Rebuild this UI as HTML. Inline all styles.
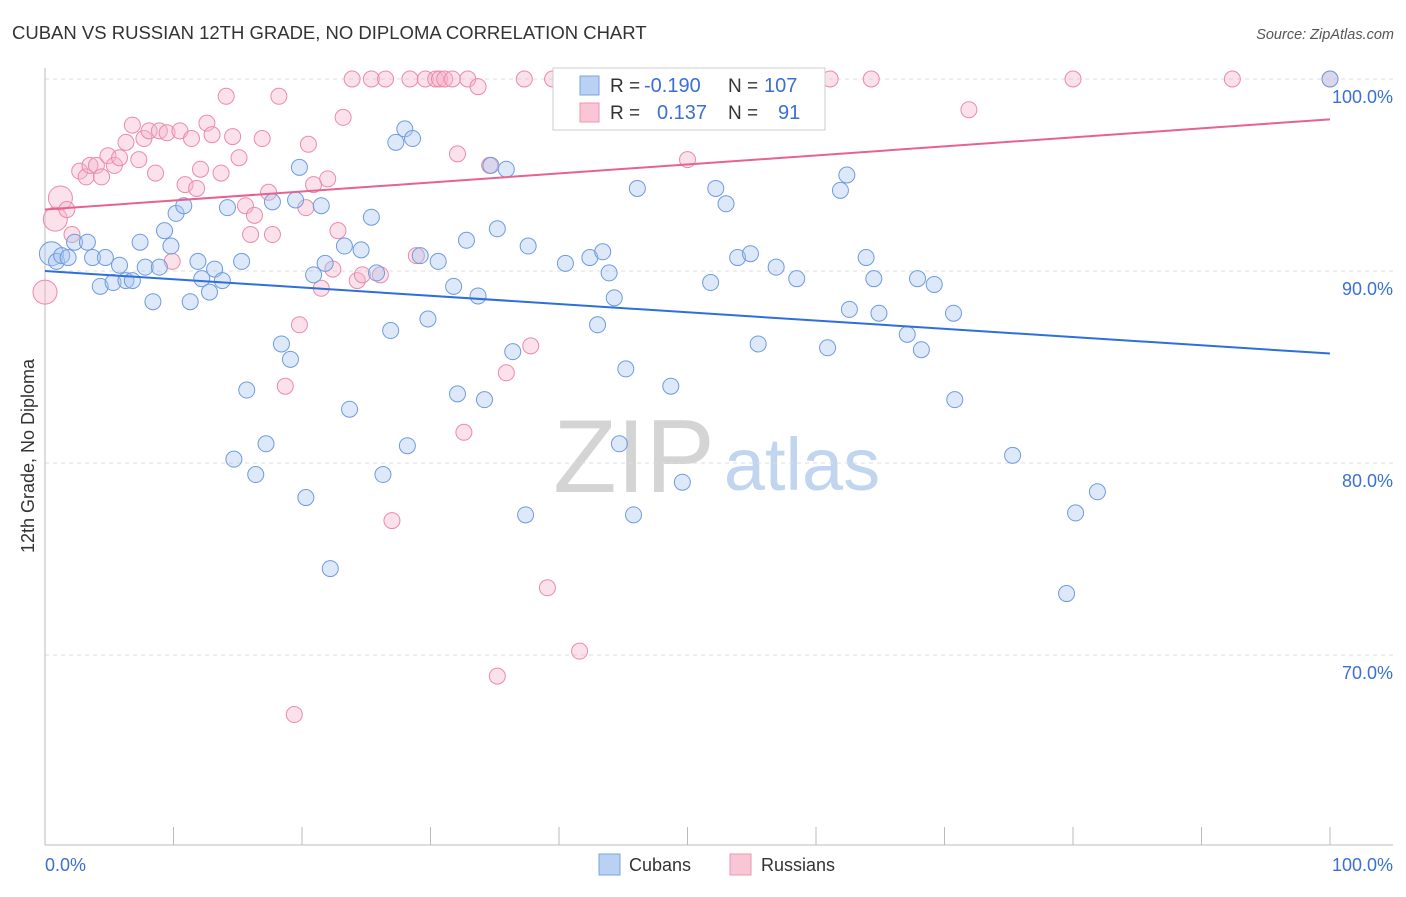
<!DOCTYPE html>
<html><head><meta charset="utf-8"><style>
body{margin:0;background:#fff;font-family:"Liberation Sans",sans-serif}
svg text{font-family:"Liberation Sans",sans-serif}
</style></head><body>
<svg id="chart" width="1406" height="892" xmlns="http://www.w3.org/2000/svg">
<text x="12" y="39" font-size="18.5" fill="#333">CUBAN VS RUSSIAN 12TH GRADE, NO DIPLOMA CORRELATION CHART</text>
<text x="1394" y="39" font-size="14.5" fill="#555" text-anchor="end" font-style="italic">Source: ZipAtlas.com</text>
<text transform="translate(34,456) rotate(-90)" font-size="18" fill="#333" text-anchor="middle">12th Grade, No Diploma</text>
<g>
<text x="634" y="492" font-size="104" fill="#d4d4d4" font-family="Liberation Serif,serif" text-anchor="middle">ZIP</text>
<text x="802" y="490" font-size="74" fill="#c2d5ee" text-anchor="middle">atlas</text>
</g>
<g id="grid"></g><g id="axes"></g><g id="pts"></g><g id="lines"></g>
<g>
<rect x="553" y="68" width="272" height="62" fill="#fff" stroke="#ccc"/>
<rect x="580" y="76" width="19" height="19" fill="#b9d2f4" stroke="#7aa3e3"/>
<rect x="580" y="103" width="19" height="19" fill="#f9c6d6" stroke="#ef94b1"/>
<text x="610" y="92" font-size="19" fill="#333">R =</text>
<text x="644" y="92" font-size="20" fill="#3b6fd4">-0.190</text>
<text x="728" y="92" font-size="19" fill="#333">N =</text>
<text x="764" y="92" font-size="20" fill="#3b6fd4">107</text>
<text x="610" y="119" font-size="19" fill="#333">R =</text>
<text x="657" y="119" font-size="20" fill="#3b6fd4">0.137</text>
<text x="728" y="119" font-size="19" fill="#333">N =</text>
<text x="778" y="119" font-size="20" fill="#3b6fd4">91</text>
</g>
<g>
<rect x="599" y="854" width="21" height="21" fill="#b9d2f4" stroke="#7aa3e3"/>
<text x="629" y="871" font-size="18" fill="#333">Cubans</text>
<rect x="730" y="854" width="21" height="21" fill="#f9c6d6" stroke="#ef94b1"/>
<text x="761" y="871" font-size="18" fill="#333">Russians</text>
</g>
</svg>
<script>
const yTicks=[100,90,80,70];
const yTickLabels=["100.0%","90.0%","80.0%","70.0%"];
const xTickLabels=["0.0%","100.0%"];
const cubanX=[0.5,0.9,1.3,1.8,2.3,3.3,3.7,4.3,4.7,5.3,5.8,6.3,6.8,7.4,7.8,8.4,8.9,9.3,9.8,10.2,10.8,11.3,11.9,12.2,12.8,13.2,13.8,14.2,15.7,14.7,15.3,16.4,17.2,17.7,18.4,19.1,19.5,19.8,20.3,20.9,21.5,21.8,22.2,23.3,23.7,24.6,25.4,25.8,26.3,26.9,27.3,28.0,28.2,28.6,29.2,29.8,30.6,31.8,32.1,32.8,33.7,34.2,34.7,35.2,35.9,36.4,37.4,37.6,40.5,42.4,43.0,43.4,43.9,44.3,44.7,45.2,45.8,46.1,48.7,49.6,51.8,52.2,53.0,53.9,54.9,55.5,56.9,58.5,60.9,61.9,62.4,62.6,63.9,64.5,64.9,67.1,67.9,68.2,69.2,70.7,70.8,75.3,79.5,80.2,81.9,100];
const cubanY=[90.9,90.5,90.8,90.7,91.5,91.5,90.7,89.2,90.7,89.4,90.3,89.5,89.5,91.5,90.2,88.4,90.2,92.1,91.3,93.0,93.4,88.4,90.5,89.6,88.9,90.1,89.5,93.3,83.8,80.2,90.5,79.4,81.0,93.6,86.2,85.4,93.7,95.4,78.2,89.8,93.4,90.4,74.5,91.3,82.8,91.1,92.8,89.9,79.4,86.9,96.7,97.4,80.9,96.9,90.8,87.5,90.5,89.2,83.6,91.6,88.7,83.3,95.5,92.2,95.3,85.8,77.3,91.3,90.4,90.7,87.2,91.0,89.9,88.6,81.0,84.9,77.3,94.3,84.0,79.0,89.4,94.3,93.5,90.7,90.9,86.2,90.2,89.6,86.0,94.2,95.0,88.0,90.7,89.6,87.8,86.7,89.6,85.9,89.3,87.8,83.3,80.4,73.2,77.4,78.5,100];
const russianX=[0,0.8,1.2,1.7,2.1,2.7,3.2,3.5,4.0,4.4,4.9,5.4,5.8,6.3,6.8,7.3,7.7,8.1,8.6,8.9,9.5,9.9,10.5,10.9,11.4,11.8,12.1,12.6,13.0,13.7,14.1,14.6,15.1,15.6,16.0,16.3,16.9,17.4,17.7,18.2,18.7,19.4,19.8,20.3,20.5,20.9,21.5,22.0,22.4,22.8,23.2,23.9,24.3,24.7,25.4,26.1,26.5,27.0,28.4,28.9,29.6,30.4,30.7,31.1,31.7,32.1,32.6,32.9,33.7,34.6,35.2,35.9,37.3,37.8,39.1,39.5,40.6,41.6,44.7,47.1,50.0,50.7,51.1,59.3,61.1,64.3,71.9,80.0,92.4,100];
const russianY=[88.9,92.7,93.8,93.2,91.9,95.2,94.9,95.5,95.5,94.9,96.0,95.5,95.9,96.7,97.6,95.8,96.9,97.3,95.1,97.3,97.2,90.5,97.3,94.5,96.9,94.3,95.3,97.7,97.1,95.1,99.1,97.0,95.9,93.4,91.9,92.9,96.9,94.1,91.9,99.1,84.0,66.9,87.2,93.3,96.6,94.5,89.1,94.8,90.1,92.1,98.0,100,89.5,89.8,100,89.8,100,77.0,100,90.8,100,100,100,100,100,96.1,81.6,100,99.6,95.5,68.9,84.7,100,86.1,73.5,100,100,70.2,100,100,95.8,100,100,100,100,100,98.4,100,100,100];
const cubanTrend=[90.0,85.7];
const russianTrend=[93.2,97.9];
const bigCuban=[0];
const bigRussian=[0,1,2];
const NS="http://www.w3.org/2000/svg";
const sx=v=>45+v*12.85, sy=v=>79+(100-v)*19.2;
function mk(tag,at,parent){const e=document.createElementNS(NS,tag);for(const k in at)e.setAttribute(k,at[k]);document.getElementById(parent).appendChild(e);return e;}
yTicks.forEach((t,i)=>{
 const l=mk('line',{x1:45,x2:1393,y1:sy(t),y2:sy(t),stroke:'#ddd','stroke-dasharray':'4,4'},'grid');
 
 
 const tx=mk('text',{x:1393,y:sy(t)+24,'font-size':18,fill:'#3b6fd4','text-anchor':'end'},'axes');
 tx.textContent=yTickLabels[i];
 
 
});
const ax=mk('line',{x1:45,x2:45,y1:68,y2:845,stroke:'#bbb'},'axes');


const bx=mk('line',{x1:45,x2:1393,y1:845,y2:845,stroke:'#bbb'},'axes');


for(let i=0;i<=10;i++){const t=mk('line',{x1:sx(i*10),x2:sx(i*10),y1:827,y2:845,stroke:'#bbb'},'axes');
 
 }
[[0,'start',45],[100,'end',1393]].forEach((d,i)=>{const t=mk('text',{x:d[2],y:871,'font-size':18,fill:'#3b6fd4','text-anchor':d[1]},'axes');t.textContent=xTickLabels[i];
 
 });
function pts(X,Y,big,fill,stroke,name){X.forEach((x,i)=>{const c=mk('circle',{cx:sx(x),cy:sy(Y[i]),r:big.includes(i)?12:8,fill:fill,'fill-opacity':0.4,stroke:stroke,'stroke-width':1},'pts');
 
 });}
pts(russianX,russianY,bigRussian,'#f5b3c8','#ec8aab','russian-point');
pts(cubanX,cubanY,bigCuban,'#a9c6ef','#6f9be0','cuban-point');
const l1=mk('line',{x1:sx(0),x2:sx(100),y1:sy(cubanTrend[0]),y2:sy(cubanTrend[1]),stroke:'#2d6fdc','stroke-width':2},'lines');


const l2=mk('line',{x1:sx(0),x2:sx(100),y1:sy(russianTrend[0]),y2:sy(russianTrend[1]),stroke:'#e8628f','stroke-width':2},'lines');


</script>
</body></html>
